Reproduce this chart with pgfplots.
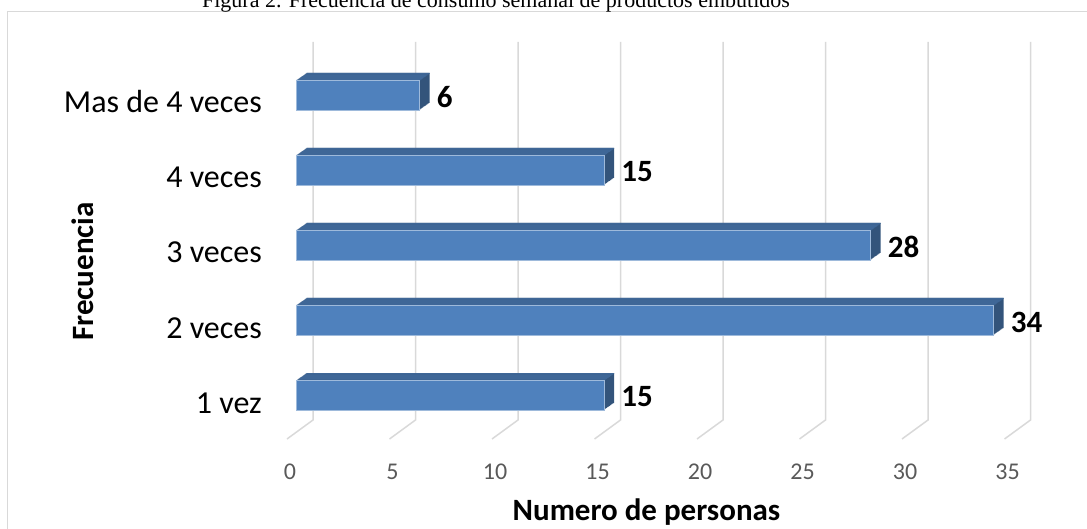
\documentclass[border=0pt]{standalone}
\usepackage{pgfplots}
\pgfplotsset{compat=1.18}
\usepackage{pgfplotstable}
\usepackage{fontspec}
\setmainfont{Carlito}
\newfontfamily\timesf{Liberation Serif}
\definecolor{barfront}{HTML}{4F81BD}
\colorlet{bartop}{barfront!80!black}
\colorlet{barside}{barfront!65!black}
\definecolor{gridc}{HTML}{D9D9D9}
\definecolor{tickc}{HTML}{595959}
\pgfplotstableread{
cat val
0 15
1 34
2 28
3 15
4 6
}\datatab
\begin{document}
\begin{tikzpicture}
\useasboundingbox (0pt,0pt) rectangle (1087pt,528pt);
\draw[gridc, line width=1.5pt] (7.5pt,-5pt) -- (7.5pt,516.5pt) -- (1095pt,516.5pt);
\node[anchor=base, inner sep=0pt, font=\timesf\fontsize{22}{26}\selectfont] at (496pt,520pt) {Figura 2. Frecuencia de consumo semanal de productos embutidos};
\begin{axis}[
  at={(296.5pt,95.5pt)}, anchor=south west,
  scale only axis, width=717.5pt, height=375pt,
  xmin=0, xmax=35, ymin=-0.5, ymax=4.5,
  clip=false,
  axis line style={draw=none}, major tick length=0pt,
  xtick={0,5,...,35}, ytick={0,...,4},
  yticklabels={1 vez,2 veces,3 veces,4 veces,Mas de 4 veces},
  /pgf/number format/assume math mode=true,
  yticklabel style={anchor=base east, inner sep=0pt, xshift=-34.5pt, yshift=-18pt, font=\fontsize{32}{38}\selectfont, text=black},
  xticklabel style={anchor=center, inner sep=0pt, xshift=-6.5pt, yshift=-39.5pt, font=\fontsize{24}{28}\selectfont, text=tickc},
]
\pgfplotsinvokeforeach{0,5,...,35}{
  \draw[gridc, line width=1.5pt] ([xshift=-9.5pt,yshift=-6.5pt]axis cs:#1,-0.5) -- ([xshift=16.5pt,yshift=12.5pt]axis cs:#1,-0.5) -- ([xshift=16.5pt,yshift=390.5pt]axis cs:#1,-0.5);
}
\pgfplotsinvokeforeach{1,...,10}{
  \addplot[xbar, bar shift=0pt, bar width=30pt, fill=barside, draw=none, xshift=#1pt, yshift=0.7*#1pt] table[x=val,y=cat]{\datatab};
}
\pgfplotsinvokeforeach{0,...,10}{
  \addplot[xbar, bar shift=14.5pt, bar width=1pt, fill=bartop, draw=none, xshift=#1pt, yshift=0.7*#1pt] table[x=val,y=cat]{\datatab};
}
\addplot[xbar, bar shift=0pt, bar width=30pt, fill=barfront, draw=barfront!55!white, line width=0.6pt,
  nodes near coords, point meta=x,
  nodes near coords style={anchor=west, inner sep=0pt, xshift=17pt, yshift=-2pt, font=\bfseries\fontsize{31}{37}\selectfont, text=black}] table[x=val,y=cat]{\datatab};
\end{axis}
\node[anchor=base, inner sep=0pt, font=\bfseries\fontsize{31}{36}\selectfont] at (646.5pt,8pt) {Numero de personas};
\node[anchor=base, rotate=90, inner sep=0pt, font=\bfseries\fontsize{31}{36}\selectfont] at (93pt,256.5pt) {Frecuencia};
\end{tikzpicture}
\end{document}
